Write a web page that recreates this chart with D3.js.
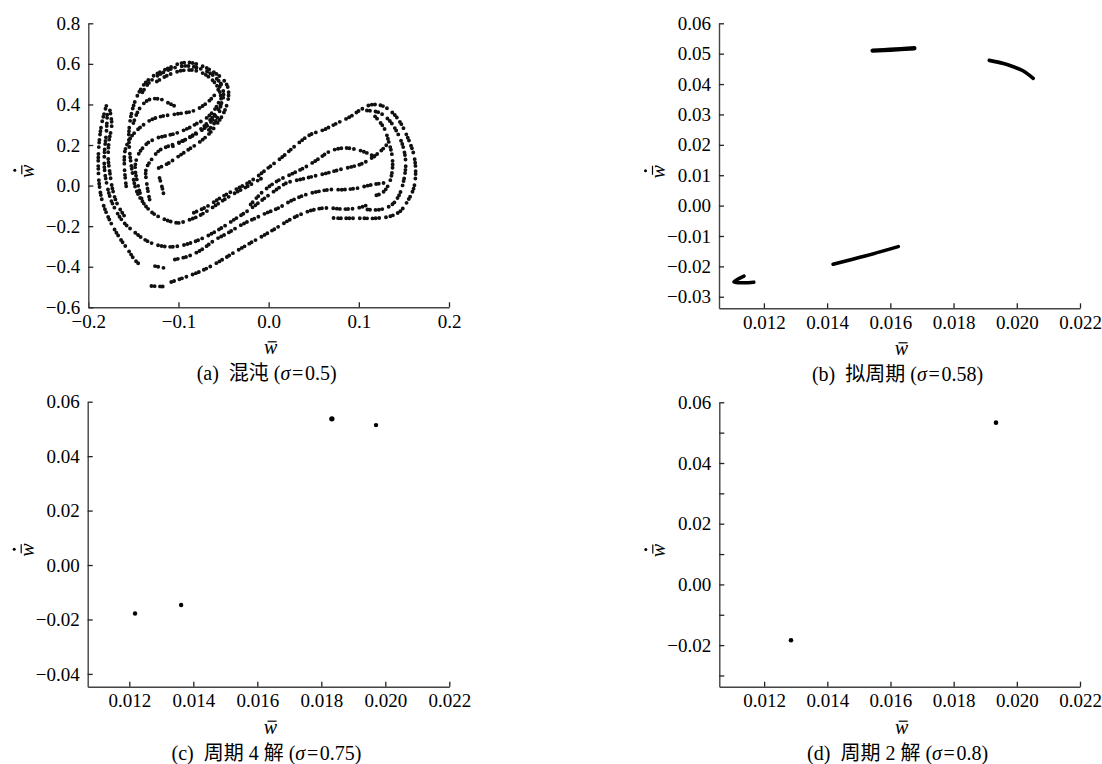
<!DOCTYPE html>
<html lang="zh">
<head>
<meta charset="UTF-8">
<title>Poincaré sections</title>
<script src="https://d3js.org/d3.v7.min.js"></script>
<style>
  body { margin: 0; background: #fff; }
  svg text { font-family: "Liberation Serif", "Times New Roman", "Noto Sans CJK SC", serif; fill: #000; }
</style>
</head>
<body>
<script>
// (a) chaotic attractor: strands of points, [w, wdot]
var chaosStrands = [
  [[-0.180,0.393],[-0.185,0.308],[-0.188,0.210],[-0.189,0.111],[-0.188,0.013],[-0.185,-0.069],[-0.180,-0.134],[-0.173,-0.200],[-0.164,-0.266],[-0.155,-0.323],[-0.149,-0.364],[-0.143,-0.389]],
  [[-0.176,0.370],[-0.174,0.300],[-0.177,0.220],[-0.178,0.140],[-0.176,0.060],[-0.173,-0.020],[-0.168,-0.090],[-0.160,-0.150]],
  [[-0.179,0.349],[-0.180,0.259],[-0.182,0.169],[-0.182,0.079],[-0.179,-0.003],[-0.175,-0.069],[-0.169,-0.126],[-0.161,-0.180],[-0.150,-0.225],[-0.139,-0.262],[-0.126,-0.290],[-0.111,-0.302],[-0.096,-0.295],[-0.081,-0.274],[-0.067,-0.246],[-0.052,-0.208],[-0.037,-0.164],[-0.022,-0.121],[-0.009,-0.077],[0.006,-0.028],[0.020,0.013],[0.035,0.030],[0.050,0.046],[0.065,0.062],[0.079,0.079],[0.094,0.095],[0.105,0.111],[0.124,0.169],[0.131,0.202]],
  [[-0.122,0.087],[-0.111,0.111],[-0.100,0.144],[-0.089,0.177],[-0.078,0.210],[-0.067,0.251],[-0.058,0.300],[-0.050,0.357],[-0.045,0.423],[-0.045,0.480],[-0.050,0.521],[-0.060,0.557],[-0.074,0.590],[-0.089,0.607],[-0.100,0.600],[-0.111,0.579],[-0.126,0.546],[-0.137,0.505],[-0.146,0.439],[-0.152,0.357],[-0.155,0.259],[-0.154,0.161],[-0.151,0.062],[-0.147,-0.020],[-0.139,-0.085],[-0.129,-0.134],[-0.115,-0.167],[-0.100,-0.184],[-0.089,-0.170],[-0.078,-0.151],[-0.063,-0.110],[-0.052,-0.077],[-0.037,-0.036],[-0.022,0.000],[-0.008,0.035]],
  [[-0.140,0.460],[-0.132,0.510],[-0.120,0.550],[-0.105,0.580],[-0.090,0.590],[-0.075,0.575],[-0.062,0.545],[-0.053,0.500],[-0.050,0.450],[-0.053,0.400],[-0.060,0.350],[-0.070,0.300],[-0.082,0.255],[-0.095,0.220],[-0.108,0.190]],
  [[-0.083,-0.134],[-0.068,-0.102],[-0.052,-0.056],[-0.037,-0.020],[-0.020,0.021],[-0.002,0.082],[0.017,0.148],[0.031,0.202],[0.046,0.251],[0.061,0.275],[0.076,0.308],[0.091,0.341],[0.102,0.374],[0.113,0.398],[0.126,0.393],[0.137,0.361],[0.146,0.311],[0.154,0.239],[0.161,0.152],[0.163,0.070],[0.161,-0.011],[0.154,-0.077],[0.146,-0.126],[0.135,-0.151],[0.120,-0.161],[0.102,-0.161],[0.083,-0.161],[0.065,-0.159]],
  [[-0.020,-0.093],[-0.006,-0.028],[0.009,0.021],[0.024,0.054],[0.039,0.087],[0.054,0.128],[0.068,0.169],[0.083,0.185],[0.098,0.177],[0.109,0.161],[0.120,0.136]],
  [[0.109,0.370],[0.122,0.361],[0.133,0.325],[0.142,0.267],[0.149,0.193],[0.152,0.111],[0.150,0.030],[0.145,-0.044],[0.137,-0.093],[0.124,-0.118],[0.109,-0.118]],
  [[0.118,0.341],[0.128,0.284],[0.133,0.218],[0.137,0.144],[0.137,0.070],[0.133,0.005],[0.126,-0.036],[0.115,-0.052]],
  [[-0.104,-0.364],[-0.089,-0.348],[-0.074,-0.315],[-0.060,-0.269],[-0.045,-0.233],[-0.030,-0.193],[-0.015,-0.161],[-0.002,-0.134],[0.011,-0.110],[0.024,-0.077],[0.039,-0.048],[0.054,-0.030],[0.068,-0.020],[0.083,-0.020],[0.098,-0.013],[0.113,0.003],[0.128,0.013]],
  [[-0.108,-0.475],[-0.089,-0.446],[-0.071,-0.413],[-0.052,-0.367],[-0.037,-0.326],[-0.023,-0.290],[-0.008,-0.252],[0.007,-0.213],[0.022,-0.172],[0.037,-0.139],[0.051,-0.118],[0.066,-0.110],[0.079,-0.115],[0.091,-0.115],[0.102,-0.107],[0.113,-0.089]],
  [[-0.130,-0.495],[-0.116,-0.498]],
  [[-0.126,-0.397],[-0.115,-0.407]],
  [[-0.158,-0.003],[-0.160,0.095],[-0.159,0.177],[-0.152,0.243],[-0.141,0.292],[-0.130,0.325],[-0.119,0.341],[-0.108,0.349],[-0.096,0.357],[-0.085,0.366],[-0.074,0.390],[-0.063,0.431],[-0.055,0.480],[-0.052,0.521]],
  [[-0.140,-0.077],[-0.145,0.005],[-0.148,0.095],[-0.144,0.157],[-0.135,0.207],[-0.124,0.234],[-0.113,0.246],[-0.102,0.259],[-0.091,0.279],[-0.080,0.305],[-0.069,0.333],[-0.060,0.374],[-0.054,0.423]],
  [[-0.132,-0.069],[-0.135,0.005],[-0.136,0.079],[-0.130,0.128],[-0.121,0.174],[-0.109,0.198],[-0.098,0.216],[-0.087,0.239],[-0.076,0.267],[-0.065,0.308],[-0.057,0.357]],
  [[-0.150,0.308],[-0.145,0.366],[-0.139,0.403],[-0.131,0.426],[-0.120,0.426],[-0.111,0.407],[-0.102,0.387]],
  [[-0.124,0.513],[-0.111,0.546],[-0.096,0.567],[-0.081,0.567],[-0.068,0.541],[-0.058,0.497],[-0.053,0.439],[-0.054,0.374],[-0.059,0.316],[-0.068,0.267]],
  [[-0.121,0.038],[-0.118,-0.011],[-0.116,-0.052]]
];

// (b) quasi-periodic: four short arcs
var quasiSegments = [
  [[0.01544,0.0510],[0.01600,0.0513],[0.01676,0.0518]],
  [[0.01913,0.0478],[0.01958,0.0468],[0.01989,0.0457],[0.02021,0.0443],[0.02052,0.0419]],
  [[0.01419,-0.0193],[0.01520,-0.0166],[0.01625,-0.0135]],
  [[0.01137,-0.0232],[0.01105,-0.0251],[0.01135,-0.0254],[0.01168,-0.0252]]
];

// (c) period-4 and (d) period-2 fixed points
var period4Points = [[0.01218,-0.0178],[0.01362,-0.0147],[0.01833,0.0537],[0.01971,0.0514]];
var period2Points = [[0.01285,-0.0184],[0.01934,0.0533]];

// axes
var aXTicks = [-0.2, -0.1, 0.0, 0.1, 0.2];
var aYTicks = [-0.6, -0.4, -0.2, 0.0, 0.2, 0.4, 0.6, 0.8];
var wXTicks = [0.012, 0.014, 0.016, 0.018, 0.020, 0.022];
var bYTicks = [-0.03, -0.02, -0.01, 0.00, 0.01, 0.02, 0.03, 0.04, 0.05, 0.06];
var cYTicks = [-0.04, -0.02, 0.00, 0.02, 0.04, 0.06];
var dYTicks = [-0.03, -0.02, -0.01, 0.00, 0.01, 0.02, 0.03, 0.04, 0.05, 0.06];

var captionTags = ["(a)", "(b)", "(c)", "(d)"];
var captionNames = ["混沌", "拟周期", "周期 4 解", "周期 2 解"];
var sigmaValues = ["0.5", "0.58", "0.75", "0.8"];

var svg = d3.select("body").append("svg").attr("width", 1102).attr("height", 764);

var fmt1 = d3.format(".1f"), fmt2 = d3.format(".2f"), fmt3 = d3.format(".3f");

function wLabel(g, cx, cy, rotated) {
  var lab = g.append("g").attr("transform", "translate(" + cx + "," + cy + ")" + (rotated ? " rotate(-90)" : ""));
  lab.append("text").attr("text-anchor", "middle").attr("font-size", 20).attr("font-style", "italic").text("w");
  lab.append("line").attr("x1", -3).attr("x2", 6).attr("y1", -12.5).attr("y2", -12.5)
    .attr("stroke", "#000").attr("stroke-width", 1.2);
  if (rotated) {
    lab.append("circle").attr("cx", 1).attr("cy", -19.5).attr("r", 1.5).attr("fill", "#000");
  }
}

function panel(p) {
  var g = svg.append("g");
  var x = d3.scaleLinear().domain(p.xDomain).range(p.xRange);
  var y = d3.scaleLinear().domain(p.yDomain).range(p.yRange);

  var gx = g.append("g").attr("transform", "translate(0," + p.yRange[0] + ")")
    .call(d3.axisBottom(x).tickValues(p.xTicks).tickFormat(p.xFormat)
      .tickSize(-5).tickSizeOuter(0).tickPadding(7));
  var gy = g.append("g").attr("transform", "translate(" + p.xRange[0] + ",0)")
    .call(d3.axisLeft(y).tickValues(p.yTicks).tickFormat(p.yFormat)
      .tickSize(-5).tickSizeOuter(0).tickPadding(8));
  [gx, gy].forEach(function (a) {
    a.attr("font-family", null).attr("font-size", null);
    a.selectAll("text").attr("font-size", 19);
    a.select(".domain").attr("stroke", "#444").attr("stroke-width", 1.4);
    a.selectAll(".tick line").attr("stroke", "#222").attr("stroke-width", 1.3);
  });

  var cx = (p.xRange[0] + p.xRange[1]) / 2;
  wLabel(g, cx + 2, p.yRange[0] + 47, false);
  wLabel(g, p.xRange[0] - 54, (p.yRange[0] + p.yRange[1]) / 2 + 6, true);

  var cap = g.append("text").attr("x", cx - 2).attr("y", p.yRange[0] + 73)
    .attr("text-anchor", "middle").attr("font-size", 20);
  cap.append("tspan").text(captionTags[p.i] + "\u2002" + captionNames[p.i] + " (");
  cap.append("tspan").attr("font-style", "italic").text("σ");
  cap.append("tspan").text("\u200A=\u200A" + sigmaValues[p.i] + ")");
  return { g: g, x: x, y: y };
}

// (a)
var pa = panel({ i: 0, xDomain: [-0.2, 0.2], xRange: [88.3, 449], yDomain: [-0.6, 0.8], yRange: [307.3, 23.3],
  xTicks: aXTicks, yTicks: aYTicks, xFormat: fmt1, yFormat: fmt1 });
var lineA = d3.line().x(function (d) { return pa.x(d[0]); }).y(function (d) { return pa.y(d[1]); })
  .curve(d3.curveCatmullRom);
pa.g.append("g").selectAll("path").data(chaosStrands).join("path")
  .attr("d", lineA).attr("fill", "none").attr("stroke", "#111")
  .attr("stroke-width", 3.9).attr("stroke-linecap", "round")
  .attr("stroke-dasharray", "0 3.2 0 5.4 0 2.7 0 4.5 0 6.8 0 3.6");

// (b)
var pb = panel({ i: 1, xDomain: [0.01058, 0.022], xRange: [719, 1080], yDomain: [-0.0338, 0.06], yRange: [308.3, 23.3],
  xTicks: wXTicks, yTicks: bYTicks, xFormat: fmt3, yFormat: fmt2 });
var lineB = d3.line().x(function (d) { return pb.x(d[0]); }).y(function (d) { return pb.y(d[1]); })
  .curve(d3.curveCatmullRom);
pb.g.append("g").selectAll("path").data(quasiSegments).join("path")
  .attr("d", lineB).attr("fill", "none").attr("stroke", "#000")
  .attr("stroke-width", function (d, i) { return i === 0 ? 4.4 : 3.6; })
  .attr("stroke-linecap", "round").attr("stroke-linejoin", "round");

// (c)
var pc = panel({ i: 2, xDomain: [0.0107, 0.022], xRange: [87.7, 449.3], yDomain: [-0.0447, 0.06], yRange: [686.7, 401.7],
  xTicks: wXTicks, yTicks: cYTicks, xFormat: fmt3, yFormat: fmt2 });
pc.g.append("g").selectAll("circle").data(period4Points).join("circle")
  .attr("cx", function (d) { return pc.x(d[0]); }).attr("cy", function (d) { return pc.y(d[1]); })
  .attr("r", function (d, i) { return i === 2 ? 2.7 : 2.2; }).attr("fill", "#000");

// (d)
var pd = panel({ i: 3, xDomain: [0.01058, 0.022], xRange: [719.3, 1080], yDomain: [-0.0337, 0.06], yRange: [686.7, 402.3],
  xTicks: wXTicks, yTicks: dYTicks, xFormat: fmt3,
  yFormat: function (v) { return Math.round(v * 100) % 2 === 0 ? fmt2(v) : ""; } });
pd.g.append("g").selectAll("circle").data(period2Points).join("circle")
  .attr("cx", function (d) { return pd.x(d[0]); }).attr("cy", function (d) { return pd.y(d[1]); })
  .attr("r", 2.3).attr("fill", "#000");
</script>
</body>
</html>
